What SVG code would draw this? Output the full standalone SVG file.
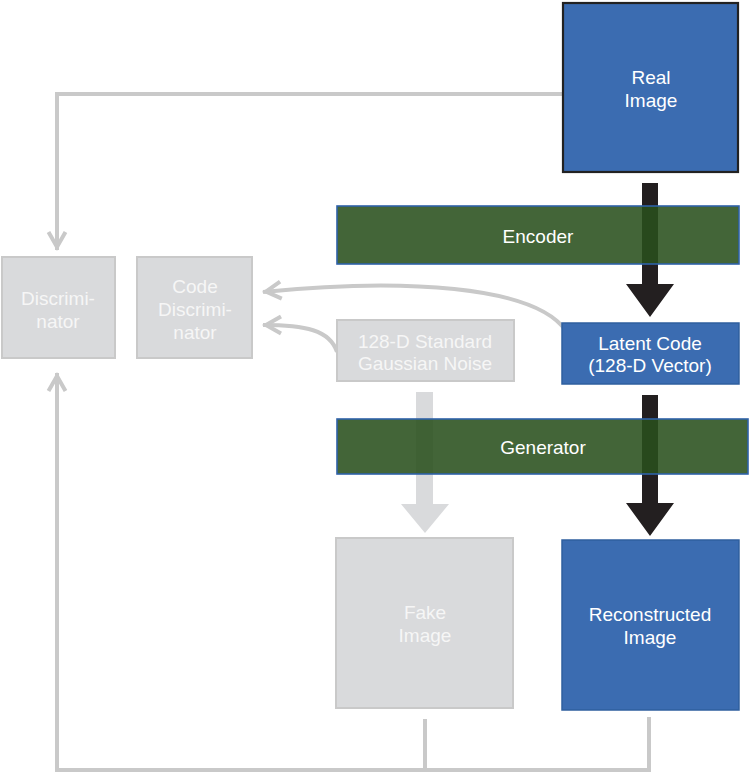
<svg xmlns="http://www.w3.org/2000/svg" width="752" height="773" viewBox="0 0 752 773">
  <style>
    .txt { font-family: "Liberation Sans", Arial, sans-serif; font-size: 19px; fill: #ffffff; text-anchor: middle; }
    .gtxt { font-family: "Liberation Sans", Arial, sans-serif; font-size: 19px; fill: #f6f6f6; text-anchor: middle; }
    .blue { fill: #3b6cb1; stroke: #2f5f9f; stroke-width: 1.5; }
    .gray { fill: #d9dadc; stroke: #c9c9c9; stroke-width: 2; }
    .bar { fill: #29501d; fill-opacity: 0.88; stroke: #2f62a8; stroke-width: 1.6; }
    .conn { fill: none; stroke: #c9c9c9; stroke-width: 4; }
  </style>
  <defs>
    <marker id="chev" markerUnits="userSpaceOnUse" viewBox="-22 -12 26 24" refX="0" refY="0" markerWidth="26" markerHeight="24" orient="auto">
      <path d="M -18 -8.5 L -3 0 L -18 8.5" fill="none" stroke="#c9c9c9" stroke-width="4"/>
    </marker>
  </defs>

  <g id="connectors">
    <path class="conn" d="M 563 94 H 57 V 250" marker-end="url(#chev)"/>
    <path class="conn" d="M 425 719 V 770"/>
    <path class="conn" d="M 649 717 V 770 H 57 V 373" marker-end="url(#chev)"/>
    <path class="conn" d="M 566 331 C 535 285, 400 278, 263 292" marker-end="url(#chev)"/>
    <path class="conn" d="M 337 352 C 330 330, 305 325, 263 325" marker-end="url(#chev)"/>
    <polygon id="arrow-noise" points="416,392 433,392 433,504 449,504 425,533 401,504 416,504" fill="#d9dadc"/>
    <polygon id="arrow-enc" points="642,183 658,183 658,284 674,284 650,317 626,284 642,284" fill="#231f20"/>
    <polygon id="arrow-gen" points="642,395 658,395 658,503 674,503 650,536 626,503 642,503" fill="#231f20"/>
  </g>

  <g id="real-image">
    <rect x="563" y="3" width="175" height="169" fill="#3b6cb1" stroke="#222222" stroke-width="2.2"/>
    <text class="txt" x="651" y="84">Real</text>
    <text class="txt" x="651" y="107">Image</text>
  </g>

  <g id="encoder">
    <rect class="bar" x="337" y="206" width="402" height="58"/>
    <text class="txt" x="538" y="243">Encoder</text>
  </g>

  <g id="discriminator">
    <rect class="gray" x="2" y="257" width="113" height="101"/>
    <text class="gtxt" x="58" y="305">Discrimi-</text>
    <text class="gtxt" x="58" y="328">nator</text>
  </g>

  <g id="code-discriminator">
    <rect class="gray" x="137" y="257" width="115" height="101"/>
    <text class="gtxt" x="195" y="293">Code</text>
    <text class="gtxt" x="195" y="316">Discrimi-</text>
    <text class="gtxt" x="195" y="339">nator</text>
  </g>

  <g id="gaussian-noise">
    <rect class="gray" x="337" y="320" width="177" height="61"/>
    <text class="gtxt" x="425" y="348">128-D Standard</text>
    <text class="gtxt" x="425" y="370">Gaussian Noise</text>
  </g>

  <g id="latent-code">
    <rect class="blue" x="562" y="323" width="177" height="61"/>
    <text class="txt" x="650" y="350">Latent Code</text>
    <text class="txt" x="650" y="372">(128-D Vector)</text>
  </g>

  <g id="generator">
    <rect class="bar" x="337" y="419" width="411" height="55"/>
    <text class="txt" x="543" y="454">Generator</text>
  </g>

  <g id="fake-image">
    <rect class="gray" x="336" y="538" width="177" height="170"/>
    <text class="gtxt" x="425" y="619">Fake</text>
    <text class="gtxt" x="425" y="642">Image</text>
  </g>

  <g id="reconstructed-image">
    <rect class="blue" x="562" y="540" width="177" height="170"/>
    <text class="txt" x="650" y="621">Reconstructed</text>
    <text class="txt" x="650" y="644">Image</text>
  </g>
</svg>
